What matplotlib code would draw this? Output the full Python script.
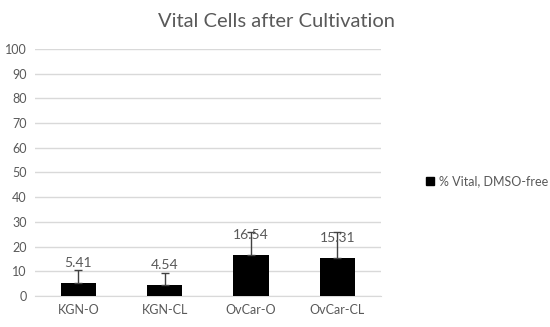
import matplotlib
matplotlib.use("Agg")
import matplotlib.pyplot as plt
from matplotlib.patches import Patch

categories = ["KGN-O", "KGN-CL", "OvCar-O", "OvCar-CL"]
values = [5.41, 4.54, 16.54, 15.31]
errors = [4.9, 4.8, 9.3, 10.7]
series_name = "% Vital, DMSO-free"
title = "Vital Cells after Cultivation"

plt.rcParams['font.family'] = ['Lato', 'DejaVu Sans']
txt = '#595959'

fig = plt.figure(figsize=(5.5, 3.27), dpi=100)
ax = fig.add_axes([0.064, 0.095, 0.628, 0.755])
x = range(len(categories))
ax.bar(x, values, width=0.41, color='black', zorder=3)
ax.errorbar(x, values, yerr=[[0]*len(values), errors], fmt='none', ecolor='#404040',
            elinewidth=1, capsize=3, capthick=1, zorder=4)
for xi, v in zip(x, values):
    ax.annotate(f"{v:.2f}", (xi, v), xytext=(0, 10), textcoords='offset points',
                ha='center', va='bottom', fontsize=10, color=txt, zorder=5)
ax.set_ylim(0, 100)
ax.set_xlim(-0.5, 3.5)
ax.set_yticks(range(0, 101, 10))
ax.set_xticks(list(x))
ax.set_xticklabels(categories)
ax.tick_params(axis='both', length=0, labelsize=9, colors=txt, pad=6)
ax.grid(axis='y', color='#d9d9d9', linewidth=1, zorder=0)
for s in ['top', 'right', 'left']:
    ax.spines[s].set_visible(False)
ax.spines['bottom'].set_color('#d9d9d9')
fig.text(0.502, 0.935, title, ha='center', va='center', fontsize=14.5, color=txt)
fig.legend(handles=[Patch(color='black', label=series_name)], loc='center left',
           bbox_to_anchor=(0.774, 0.445), frameon=False, fontsize=9, labelcolor=txt,
           handlelength=0.7, handleheight=0.7, handletextpad=0.4,
           borderpad=0, borderaxespad=0)
fig.savefig("out.png", dpi=100)
